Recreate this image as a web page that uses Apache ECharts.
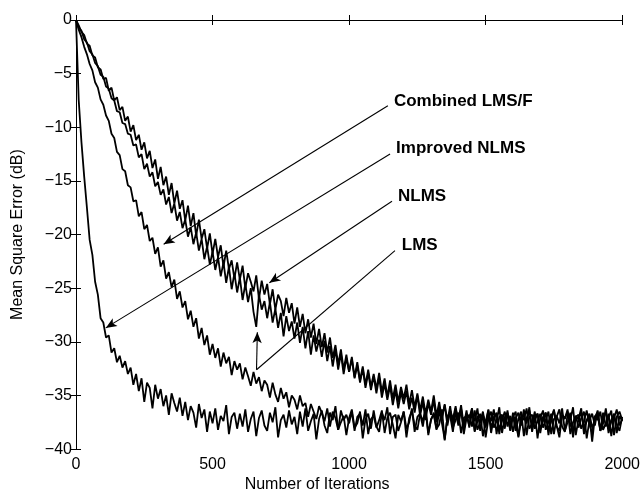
<!DOCTYPE html>
<html>
<head>
<meta charset="utf-8">
<script src="https://cdn.jsdelivr.net/npm/echarts@6/dist/echarts.min.js"></script>
<style>
html,body{margin:0;padding:0;background:#fff;}
#chart{width:643px;height:498px;}
</style>
</head>
<body>
<div id="chart"></div>
<script>
// Sample grid: one value every 10 iterations, 0..2000
const iterations = Array.from({length: 201}, (_, i) => i * 10);

const xTicks = [0, 500, 1000, 1500, 2000];
const yTicks = [0, -5, -10, -15, -20, -25, -30, -35, -40];

// Combined LMS/F (fastest)
const combinedLMSF = [
  0, -7.5, -11.4, -14.6, -17.5, -20.5, -21.9, -24.4, -25.6, -27.8,
  -28.2, -29.6, -29.4, -31.0, -30.6, -31.9, -31.3, -32.4, -31.8, -33.0,
  -32.4, -34.0, -33.0, -34.6, -33.4, -35.6, -33.8, -34.3, -36.2, -34.0,
  -35.3, -34.4, -36.0, -35.0, -36.8, -34.8, -35.7, -36.5, -35.2, -36.9,
  -35.6, -37.3, -36.0, -36.6, -38.0, -35.8, -37.1, -36.3, -38.4, -36.5,
  -37.6, -36.2, -38.2, -36.9, -37.4, -35.9, -38.6, -37.0, -36.6, -38.1,
  -36.7, -37.9, -36.3, -38.4, -37.2, -36.5, -38.8, -37.1, -36.4, -37.8,
  -38.3, -36.6, -37.5, -36.1, -38.9, -37.3, -36.8, -38.0, -36.4, -37.7,
  -37.0, -38.6, -36.5, -37.9, -36.2, -38.3, -37.4, -36.7, -39.1, -37.2,
  -36.4, -37.8, -38.5, -36.6, -37.3, -36.0, -38.2, -37.5, -36.9, -38.7,
  -37.1, -36.3, -38.0, -37.6, -36.5, -39.0, -37.2, -36.7, -38.1, -36.4,
  -37.9, -38.4, -36.6, -37.3, -36.1, -38.6, -37.0, -36.8, -38.3, -37.5,
  -36.5, -38.9, -37.1, -36.4, -37.8, -38.2, -36.7, -37.4, -36.2, -38.5,
  -37.3, -36.6, -38.1, -37.7, -36.3, -39.2, -37.0, -36.9, -38.4, -36.5,
  -37.8, -36.2, -38.6, -37.1, -36.8, -37.9, -36.4, -38.2, -37.5, -36.7,
  -38.9, -37.2, -36.5, -38.0, -37.4, -36.1, -38.5, -37.0, -36.8, -38.3,
  -36.6, -37.7, -38.8, -36.9, -37.3, -36.2, -38.1, -37.6, -36.5, -39.0,
  -37.1, -36.4, -38.2, -37.5, -36.7, -38.6, -37.0, -36.3, -37.9, -38.4,
  -36.8, -37.3, -36.1, -38.7, -37.2, -36.6, -38.0, -37.4, -36.9, -39.3,
  -37.0, -36.5, -38.3, -37.6, -36.2, -38.1, -37.3, -36.7, -38.5, -36.9,
  -37.4
];

// Improved NLMS
const improvedNLMS = [
  0, -0.9, -1.6, -2.5, -3.2, -4.1, -4.7, -5.8, -6.3, -7.4,
  -7.9, -8.9, -9.4, -10.6, -11.0, -12.3, -12.6, -13.9, -14.1, -15.4,
  -15.6, -16.9, -16.8, -18.3, -17.9, -19.5, -19.1, -20.6, -20.3, -21.8,
  -21.2, -23.0, -22.4, -24.1, -23.5, -24.9, -24.2, -26.0, -25.3, -26.8,
  -26.2, -27.9, -27.1, -28.6, -27.8, -29.7, -28.7, -30.3, -29.4, -31.2,
  -30.2, -31.5, -30.6, -32.3, -31.0, -32.0, -31.4, -33.1, -31.8, -32.6,
  -32.0, -33.5, -32.4, -33.2, -34.1, -32.8, -33.9, -33.3, -34.6, -33.6,
  -34.0, -35.2, -33.8, -34.9, -35.6, -34.3, -35.3, -34.7, -36.1, -35.0,
  -35.4, -36.3, -35.0, -36.0, -35.7, -37.0, -35.8, -36.5, -37.2, -36.0,
  -36.6, -37.4, -36.2, -37.9, -36.5, -37.1, -38.2, -36.4, -37.3, -36.8,
  -37.6, -36.5, -38.3, -37.0, -36.7, -37.8, -36.3, -38.6, -37.2, -36.9,
  -38.0, -37.3, -36.4, -38.5, -37.1, -36.6, -37.7, -39.0, -36.8, -37.4,
  -36.5, -38.1, -37.5, -36.2, -38.4, -37.0, -36.7, -37.9, -36.3, -38.7,
  -37.2, -36.8, -38.2, -36.4, -37.6, -39.1, -37.0, -36.5, -38.0, -37.3,
  -36.6, -38.5, -37.1, -36.9, -37.8, -36.2, -38.3, -37.4, -36.7, -38.8,
  -37.5, -36.3, -38.0, -37.2, -36.6, -38.6, -36.9, -37.7, -36.4, -38.2,
  -37.0, -36.5, -38.9, -37.3, -36.8, -37.6, -36.1, -38.4, -37.1, -36.7,
  -38.1, -37.4, -36.6, -38.7, -37.0, -36.4, -37.9, -38.3, -36.8, -37.2,
  -36.3, -38.6, -37.5, -36.9, -38.0, -37.1, -36.5, -39.0, -37.3, -36.7,
  -37.8, -36.4, -38.2, -37.0, -36.6, -38.5, -37.4, -36.9, -37.7, -38.3,
  -37.0
];

// NLMS
const nlms = [
  0, -0.5, -1.1, -1.4, -2.2, -2.4, -3.3, -3.5, -4.4, -4.6,
  -5.5, -5.4, -6.6, -6.3, -7.5, -7.2, -8.4, -8.1, -9.4, -9.0,
  -10.4, -9.8, -11.2, -10.7, -12.1, -11.4, -12.9, -12.2, -13.8, -13.0,
  -14.8, -13.7, -15.4, -14.6, -16.3, -15.2, -17.1, -15.9, -17.6, -16.8,
  -18.7, -17.3, -19.2, -18.0, -20.1, -18.6, -20.4, -19.5, -21.3, -19.9,
  -21.8, -20.4, -22.1, -21.0, -23.0, -21.5, -23.2, -22.4, -24.1, -22.6,
  -24.2, -22.9, -25.0, -23.6, -24.4, -25.3, -23.8, -26.0, -24.3, -25.6,
  -24.6, -26.5, -25.1, -27.0, -25.6, -26.2, -27.6, -25.9, -27.3, -26.4,
  -28.3, -26.8, -28.6, -27.4, -29.2, -27.9, -29.6, -28.3, -30.2, -28.8,
  -30.5, -29.2, -31.0, -29.6, -31.5, -30.3, -32.1, -30.7, -32.6, -31.2,
  -32.8, -31.6, -33.4, -32.2, -33.8, -32.5, -34.3, -32.9, -34.5, -33.2,
  -34.8, -33.3, -35.2, -33.9, -35.4, -34.1, -35.9, -34.5, -36.2, -34.7,
  -35.8, -34.6, -36.3, -35.2, -36.6, -35.0, -36.9, -35.6, -37.3, -35.7,
  -36.8, -35.4, -37.5, -36.1, -37.0, -35.9, -37.8, -36.4, -37.2, -36.0,
  -37.6, -36.3, -38.2, -36.8, -37.1, -36.2, -38.4, -36.9, -37.5, -36.5,
  -38.0, -36.7, -37.4, -36.3, -38.6, -37.0, -36.8, -38.1, -36.6, -37.7,
  -36.9, -38.3, -37.2, -36.5, -38.8, -37.1, -36.4, -37.9, -37.3, -36.7,
  -38.5, -37.0, -36.6, -38.2, -37.4, -36.3, -37.8, -38.9, -36.8, -37.1,
  -36.5, -37.7, -38.4, -36.9, -37.2, -36.2, -38.6, -37.3, -36.7, -38.0,
  -37.4, -36.8, -38.3, -36.6, -37.9, -37.1, -36.4, -38.7, -37.0, -36.5,
  -37.3
];

// LMS
const lms = [
  0, -0.7, -1.0, -1.8, -2.1, -2.9, -3.2, -4.0, -4.3, -5.1,
  -5.3, -6.2, -6.4, -7.3, -7.5, -8.5, -8.6, -9.6, -9.7, -10.6,
  -10.7, -11.7, -11.6, -12.8, -12.5, -13.9, -13.4, -14.6, -14.2, -15.5,
  -15.1, -16.3, -15.8, -17.2, -16.5, -18.0, -17.1, -18.7, -17.9, -19.4,
  -18.6, -20.2, -19.3, -20.9, -19.8, -21.5, -20.4, -22.3, -21.1, -22.8,
  -21.6, -23.3, -22.1, -23.9, -22.6, -24.5, -23.0, -25.1, -23.6, -25.4,
  -24.0, -26.1, -24.6, -26.3, -25.0, -27.2, -28.6, -25.6, -27.0, -26.2,
  -27.8, -26.3, -28.2, -26.9, -28.7, -27.3, -29.5, -27.6, -29.0, -28.1,
  -29.7, -28.2, -30.1, -28.6, -30.6, -29.0, -31.2, -29.4, -30.9, -29.8,
  -31.4, -29.9, -31.8, -30.4, -32.3, -30.7, -32.6, -31.1, -33.0, -31.5,
  -32.8, -31.4, -33.3, -31.9, -33.6, -32.3, -34.0, -32.6, -34.2, -33.0,
  -34.4, -32.9, -34.7, -33.4, -35.1, -33.6, -35.3, -34.0, -35.6, -34.2,
  -35.3, -34.0, -35.8, -34.5, -36.1, -34.8, -36.4, -35.1, -36.7, -35.4,
  -36.5, -35.0, -36.9, -35.6, -37.2, -35.8, -37.4, -36.0, -37.7, -36.2,
  -37.3, -35.9, -37.8, -36.4, -38.0, -36.6, -37.4, -36.2, -38.3, -36.8,
  -37.6, -36.4, -38.5, -37.0, -36.7, -38.2, -37.3, -36.5, -37.9, -36.9,
  -38.4, -37.1, -36.6, -37.8, -36.3, -38.7, -37.0, -36.8, -38.1, -37.4,
  -36.7, -38.0, -37.3, -36.5, -38.6, -37.2, -36.9, -37.6, -36.2, -38.3,
  -37.5, -36.6, -38.9, -37.0, -36.8, -38.1, -37.4, -36.4, -37.7, -38.5,
  -36.9, -37.3, -36.5, -38.2, -37.6, -36.7, -38.8, -37.1, -36.3, -37.8,
  -37.2
];

// Annotation labels and their arrows (data coordinates)
const annotations = [
  {text: 'Combined LMS/F', at: [1164, -7.6], path: [[1142, -8.0], [321, -20.9]]},
  {text: 'Improved NLMS', at: [1172, -12.0], path: [[1150, -12.5], [109, -28.7]]},
  {text: 'NLMS',          at: [1179, -16.4], path: [[1157, -16.9], [708, -24.5]]},
  {text: 'LMS',           at: [1193, -21.0], path: [[1168, -21.5], [661, -32.6], [664, -29.1]]}
];

const FONT = '"Liberation Sans", Arial, Helvetica, sans-serif';
const chart = echarts.init(document.getElementById('chart'), null, {renderer: 'canvas'});

function pairs(arr) { return iterations.map((x, i) => [x, arr[i]]); }

// Build arrow segments for markLine
const arrowData = [];
annotations.forEach(a => {
  for (let i = 0; i < a.path.length - 1; i++) {
    const last = i === a.path.length - 2;
    arrowData.push([
      {coord: a.path[i], symbol: 'none'},
      {coord: a.path[i + 1], symbol: last ? 'arrow' : 'none'}
    ]);
  }
});

const lineStyle = {color: '#000', width: 1.8};
const seriesList = [combinedLMSF, improvedNLMS, nlms, lms].map((arr, idx) => ({
  type: 'line',
  data: pairs(arr),
  showSymbol: false,
  symbol: 'none',
  lineStyle: lineStyle,
  itemStyle: {color: '#000'},
  animation: false,
  silent: true,
  z: 2
}));
seriesList[0].markLine = {
  silent: true,
  animation: false,
  symbolSize: [7, 11],
  label: {show: false},
  lineStyle: {color: '#000', width: 1.1, type: 'solid'},
  emphasis: {disabled: true},
  data: arrowData
};

const minusFmt = v => (v < 0 ? '\u2212' + Math.abs(v) : String(v));
const plainFmt = v => String(v);

chart.setOption({
  backgroundColor: '#fff',
  animation: false,
  grid: {left: 76, right: 19, top: 20, bottom: 46},
  xAxis: [{
    type: 'value', min: xTicks[0], max: xTicks[xTicks.length - 1], interval: 500,
    position: 'bottom',
    name: 'Number of Iterations', nameLocation: 'middle', nameGap: 27,
    nameTextStyle: {color: '#000', fontFamily: FONT, fontSize: 16, padding: [0, 64, 0, 0]},
    axisLine: {show: true, lineStyle: {color: '#000', width: 1}},
    axisTick: {show: true, inside: true, length: 5, lineStyle: {color: '#000'}},
    axisLabel: {color: '#000', fontFamily: FONT, fontSize: 16, margin: 7, formatter: plainFmt},
    splitLine: {show: false}
  }, {
    type: 'value', min: xTicks[0], max: xTicks[xTicks.length - 1], interval: 500,
    position: 'top',
    axisLine: {show: true, lineStyle: {color: '#000', width: 1}},
    axisTick: {show: true, inside: true, length: 5, lineStyle: {color: '#000'}},
    axisLabel: {show: false},
    splitLine: {show: false}
  }],
  yAxis: [{
    type: 'value', min: yTicks[yTicks.length - 1], max: yTicks[0], interval: 5,
    position: 'left',
    name: 'Mean Square Error (dB)', nameLocation: 'middle', nameGap: 50,
    nameTextStyle: {color: '#000', fontFamily: FONT, fontSize: 16},
    axisLine: {show: true, lineStyle: {color: '#000', width: 1}},
    axisTick: {show: true, inside: true, length: 5, lineStyle: {color: '#000'}},
    axisLabel: {color: '#000', fontFamily: FONT, fontSize: 16, margin: 4, formatter: minusFmt},
    splitLine: {show: false}
  }, {
    type: 'value', min: yTicks[yTicks.length - 1], max: yTicks[0], interval: 5,
    position: 'right',
    axisLine: {show: true, lineStyle: {color: '#000', width: 1}},
    axisTick: {show: true, inside: true, length: 5, lineStyle: {color: '#000'}},
    axisLabel: {show: false},
    splitLine: {show: false}
  }],
  series: seriesList
});

// Annotation texts placed through the grid's coordinate system
const texts = annotations.map(a => {
  const p = chart.convertToPixel({gridIndex: 0}, a.at);
  return {
    type: 'text', x: p[0], y: p[1], silent: true, z: 10,
    style: {text: a.text, fill: '#000', font: 'bold 17px ' + FONT,
            textAlign: 'left', textVerticalAlign: 'middle'}
  };
});
chart.setOption({graphic: texts});
</script>
</body>
</html>
